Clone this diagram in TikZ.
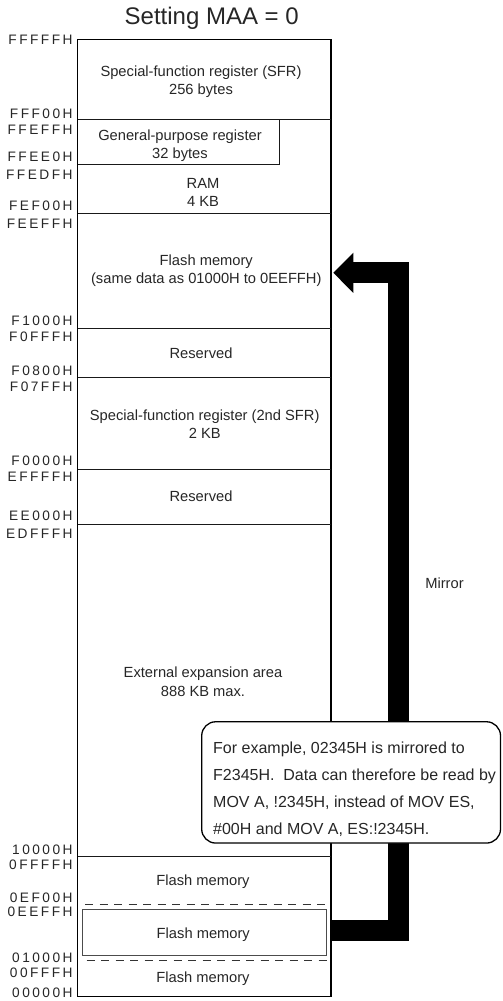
\documentclass[tikz,border=0pt]{standalone}
\usepackage{fontspec}
\setmainfont{Liberation Sans}
\newfontfamily\lblfont[LetterSpace=18]{Liberation Sans}
\usetikzlibrary{arrows.meta}
\newcommand\cst{\rule[-0.2355em]{0pt}{1.2em}}
\begin{document}
\begin{tikzpicture}[x=1pt,y=-1pt,
  txt/.style={inner sep=0pt, align=center, text=black!85, font=\fontsize{14.7}{18.3}\selectfont},
  addr/.style={inner sep=0pt, anchor=east, text=black!85, font=\lblfont\fontsize{13.7}{16}\selectfont},
  outer/.style={draw=black, line width=1.5pt},
  sep/.style={draw=black!90, line width=1pt},
  dsep/.style={draw=black!80, line width=1pt, dash pattern=on 8pt off 6.5pt},
  innerbox/.style={draw=black!70, line width=0.9pt, inner sep=0pt},
  mirrorarrow/.style={draw=black, line width=21pt, line join=miter, -{Triangle[length=20pt,width=39pt]}},
  calloutbox/.style={draw=black, line width=1.3pt, fill=white, rounded corners=14pt, inner sep=0pt}
]
\useasboundingbox (0,0) rectangle (503,1001);

% title
\node[txt, font=\fontsize{24}{28}\selectfont] (title) at (211.7,16.2) {\cst Setting MAA = 0};

% outer box
\draw[outer] (77.7,39.5) rectangle (331,996.5);

% separators
\draw[sep] (77.7,119.3) -- (331,119.3);
\draw[sep] (77.7,164) -- (279,164) -- (279,119.3);
\draw[sep] (77.7,213) -- (331,213);
\draw[sep] (77.7,328) -- (331,328);
\draw[sep] (77.7,377) -- (331,377);
\draw[sep] (77.7,469.3) -- (331,469.3);
\draw[sep] (77.7,524) -- (331,524);
\draw[sep] (77.7,856) -- (331,856);
\draw[dsep] (85,904) -- (331,904);
\draw[dsep] (86.7,960.7) -- (331,960.7);

% inner flash box (source of mirror)
\node[innerbox, minimum width=243.7pt, minimum height=46pt] (src) at (204.15,932) {};

% region texts
\node[txt] (sfr) at (201,80.2) {\cst Special-function register (SFR)\\\cst 256 bytes};
\node[txt] (gpr) at (180,144.2) {\cst General-purpose register\\\cst 32 bytes};
\node[txt] (ram) at (203,191.9) {\cst RAM\\\cst 4 KB};
\node[txt] (dst) at (206.3,269.2) {\cst Flash memory\\\cst (same data as 01000H to 0EEFFH)};
\node[txt] (rsv1) at (201,353.3) {\cst Reserved};
\node[txt] (sfr2) at (204.7,424.2) {\cst Special-function register (2nd SFR)\\\cst 2 KB};
\node[txt] (rsv2) at (201,495.7) {\cst Reserved};
\node[txt] (ext) at (203,681.5) {\cst External expansion area\\\cst 888 KB max.};
\node[txt] (fl1) at (203,880) {\cst Flash memory};
\node[txt] (fl2) at (203.3,933.3) {\cst Flash memory};
\node[txt] (fl3) at (203,976.7) {\cst Flash memory};

% addresses
\node[addr] (a1) at (72.7,39.3) {\cst FFFFFH};
\node[addr] (a2) at (72.7,113.3) {\cst FFF00H};
\node[addr] (a3) at (72.7,130) {\cst FFEFFH};
\node[addr] (a4) at (72.7,156.7) {\cst FFEE0H};
\node[addr] (a5) at (72.7,174.3) {\cst FFEDFH};
\node[addr] (a6) at (72.7,206) {\cst FEF00H};
\node[addr] (a7) at (72.7,223.3) {\cst FEEFFH};
\node[addr] (a8) at (72.7,321) {\cst F1000H};
\node[addr] (a9) at (72.7,337) {\cst F0FFFH};
\node[addr] (a10) at (72.7,371) {\cst F0800H};
\node[addr] (a11) at (72.7,386.7) {\cst F07FFH};
\node[addr] (a12) at (72.7,460.7) {\cst F0000H};
\node[addr] (a13) at (72.7,476.7) {\cst EFFFFH};
\node[addr] (a14) at (72.7,515.7) {\cst EE000H};
\node[addr] (a15) at (72.7,533.5) {\cst EDFFFH};
\node[addr] (a16) at (72.7,849.3) {\cst 10000H};
\node[addr] (a17) at (72.7,864) {\cst 0FFFFH};
\node[addr] (a18) at (72.7,897.3) {\cst 0EF00H};
\node[addr] (a19) at (72.7,911) {\cst 0EEFFH};
\node[addr] (a20) at (72.7,957.3) {\cst 01000H};
\node[addr] (a21) at (72.7,972.3) {\cst 00FFFH};
\node[addr] (a22) at (72.7,992.3) {\cst 00000H};

% mirror arrow
\coordinate (arrS) at (331,930.8);
\coordinate (b1) at (398.8,930.8);
\coordinate (b2) at (398.8,272.8);
\coordinate (arrE) at (333.3,272.8);
\draw[mirrorarrow] (arrS) -- (b1) -- (b2) -- (arrE);
\node[txt] (mirror) at (444.5,583.3) {\cst Mirror};

% callout
\node[calloutbox, minimum width=298.8pt, minimum height=121.3pt] (callout) at (351.1,782.4) {};
\node[txt, align=left, anchor=west, font=\fontsize{16}{27}\selectfont] (note) at (213,788.5)
 {\cst For example, 02345H is mirrored to\\
  \cst F2345H.\ \ Data can therefore be read by\\
  \cst MOV A, !2345H, instead of MOV ES,\\
  \cst \#00H and MOV A, ES:!2345H.};
\end{tikzpicture}
\end{document}
